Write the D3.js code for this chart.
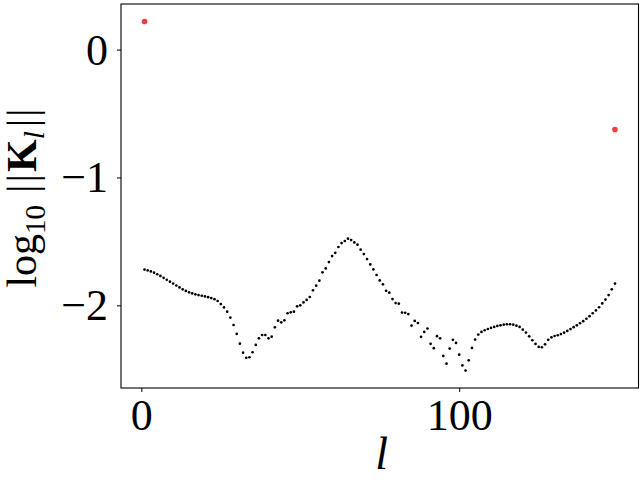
<!DOCTYPE html>
<html>
<head>
<meta charset="utf-8">
<script src="https://cdn.jsdelivr.net/npm/d3@7"></script>
<style>
  html, body { margin: 0; padding: 0; background: #fff; }
  svg { display: block; }
  text { font-family: "Liberation Serif", "DejaVu Serif", serif; fill: #000; }
</style>
</head>
<body>
<svg id="chart" width="640" height="480"></svg>
<script>
// ---- data ----
const lValues = d3.range(1, 150); // l = 1..149
const normValues = [
  -1.720, -1.727, -1.735, -1.745, -1.757, -1.770, -1.785, -1.800, -1.815, -1.830,
  -1.845, -1.860, -1.875, -1.887, -1.898, -1.907, -1.914, -1.920, -1.925, -1.930,
  -1.936, -1.943, -1.952, -1.966, -1.990, -2.016, -2.050, -2.096, -2.154, -2.224,
  -2.300, -2.370, -2.410, -2.406, -2.367, -2.310, -2.258, -2.232, -2.232, -2.258,
  -2.245, -2.172, -2.120, -2.133, -2.117, -2.062, -2.055, -2.050, -2.008, -2.000,
  -1.977, -1.958, -1.935, -1.883, -1.846, -1.807, -1.742, -1.711, -1.662, -1.615,
  -1.589, -1.544, -1.513, -1.497, -1.479, -1.490, -1.508, -1.526, -1.565, -1.599,
  -1.638, -1.680, -1.719, -1.763, -1.805, -1.836, -1.886, -1.901, -1.951, -1.982,
  -1.987, -2.057, -2.058, -2.068, -2.158, -2.122, -2.138, -2.246, -2.208, -2.181,
  -2.301, -2.335, -2.241, -2.258, -2.396, -2.456, -2.338, -2.270, -2.294, -2.386,
  -2.470, -2.510, -2.430, -2.333, -2.268, -2.229, -2.208, -2.195, -2.185, -2.177,
  -2.169, -2.161, -2.156, -2.151, -2.148, -2.148, -2.151, -2.159, -2.169, -2.190,
  -2.213, -2.242, -2.273, -2.302, -2.325, -2.328, -2.305, -2.270, -2.250, -2.240,
  -2.234, -2.225, -2.214, -2.200, -2.186, -2.171, -2.156, -2.140, -2.124, -2.105,
  -2.085, -2.062, -2.040, -2.015, -1.985, -1.955, -1.920, -1.875, -1.830
];
const redL = [1, 149];
const redValues = [0.220, -0.625];
const xTicks = [0, 100];
const yTicks = [0, -1, -2];

// ---- layout ----
const box = { left: 121, right: 638.5, top: 4, bottom: 388 };
const svg = d3.select("#chart");
svg.append("rect").attr("width", 640).attr("height", 480).attr("fill", "#fff");

// domains with 5% margins (matplotlib style)
const allL = lValues.concat(redL);
const allV = normValues.concat(redValues);
const [lMin, lMax] = d3.extent(allL);
const [vMin, vMax] = d3.extent(allV);
const lPad = (lMax - lMin) * 0.05, vPad = (vMax - vMin) * 0.05;

const x = d3.scaleLinear().domain([lMin - lPad, lMax + lPad]).range([box.left, box.right]);
const y = d3.scaleLinear().domain([vMin - vPad, vMax + vPad]).range([box.bottom, box.top]);

// points
const pts = lValues.map((l, i) => ({ l, v: normValues[i] }));
svg.append("g").selectAll("circle").data(pts).join("circle")
  .attr("cx", d => x(d.l)).attr("cy", d => y(d.v)).attr("r", 1.35).attr("fill", "#000");

const reds = redL.map((l, i) => ({ l, v: redValues[i] }));
svg.append("g").selectAll("circle").data(reds).join("circle")
  .attr("cx", d => x(d.l)).attr("cy", d => y(d.v)).attr("r", 2.8).attr("fill", "#f03c3c");

// frame
svg.append("rect")
  .attr("x", box.left).attr("y", box.top)
  .attr("width", box.right - box.left).attr("height", box.bottom - box.top)
  .attr("fill", "none").attr("stroke", "#000").attr("stroke-width", 1.1);

const fmt = d => (d < 0 ? "\u2212" + Math.abs(d) : String(d));

// axes
const xAxis = svg.append("g").attr("transform", `translate(0,${box.bottom})`)
  .call(d3.axisBottom(x).tickValues(xTicks).tickSize(4).tickPadding(7).tickFormat(fmt));
const yAxis = svg.append("g").attr("transform", `translate(${box.left},0)`)
  .call(d3.axisLeft(y).tickValues(yTicks).tickSize(4).tickPadding(9).tickFormat(fmt));

[xAxis, yAxis].forEach(g => {
  g.select(".domain").remove();
  g.selectAll(".tick line").attr("stroke", "#000").attr("stroke-width", 1);
  g.selectAll(".tick text").attr("font-family", "Liberation Serif")
    .attr("font-size", 44).attr("fill", "#000");
});
xAxis.selectAll(".tick text").attr("dy", "0.71em");
yAxis.selectAll(".tick text").attr("dy", "0.33em");

// x label
svg.append("text")
  .attr("x", (box.left + box.right) / 2 + 2).attr("y", 469)
  .attr("text-anchor", "middle").attr("font-size", 46).attr("font-style", "italic")
  .text("l");

// y label: log10 ||K_l||
const yl = svg.append("text")
  .attr("transform", "translate(36,198) rotate(-90)")
  .attr("text-anchor", "middle").attr("font-size", 42);
yl.append("tspan").text("log");
yl.append("tspan").attr("font-size", 29).attr("dy", 9).text("10");
yl.append("tspan").attr("dy", -9).attr("dx", 12).text("|");
yl.append("tspan").attr("dx", 2).text("|");
yl.append("tspan").attr("dx", 2).attr("font-weight", "bold").text("K");
yl.append("tspan").attr("font-size", 29).attr("font-style", "italic").attr("dy", 8).text("l");
yl.append("tspan").attr("dy", -8).attr("dx", 4).text("|");
yl.append("tspan").attr("dx", 2).text("|");
</script>
</body>
</html>
